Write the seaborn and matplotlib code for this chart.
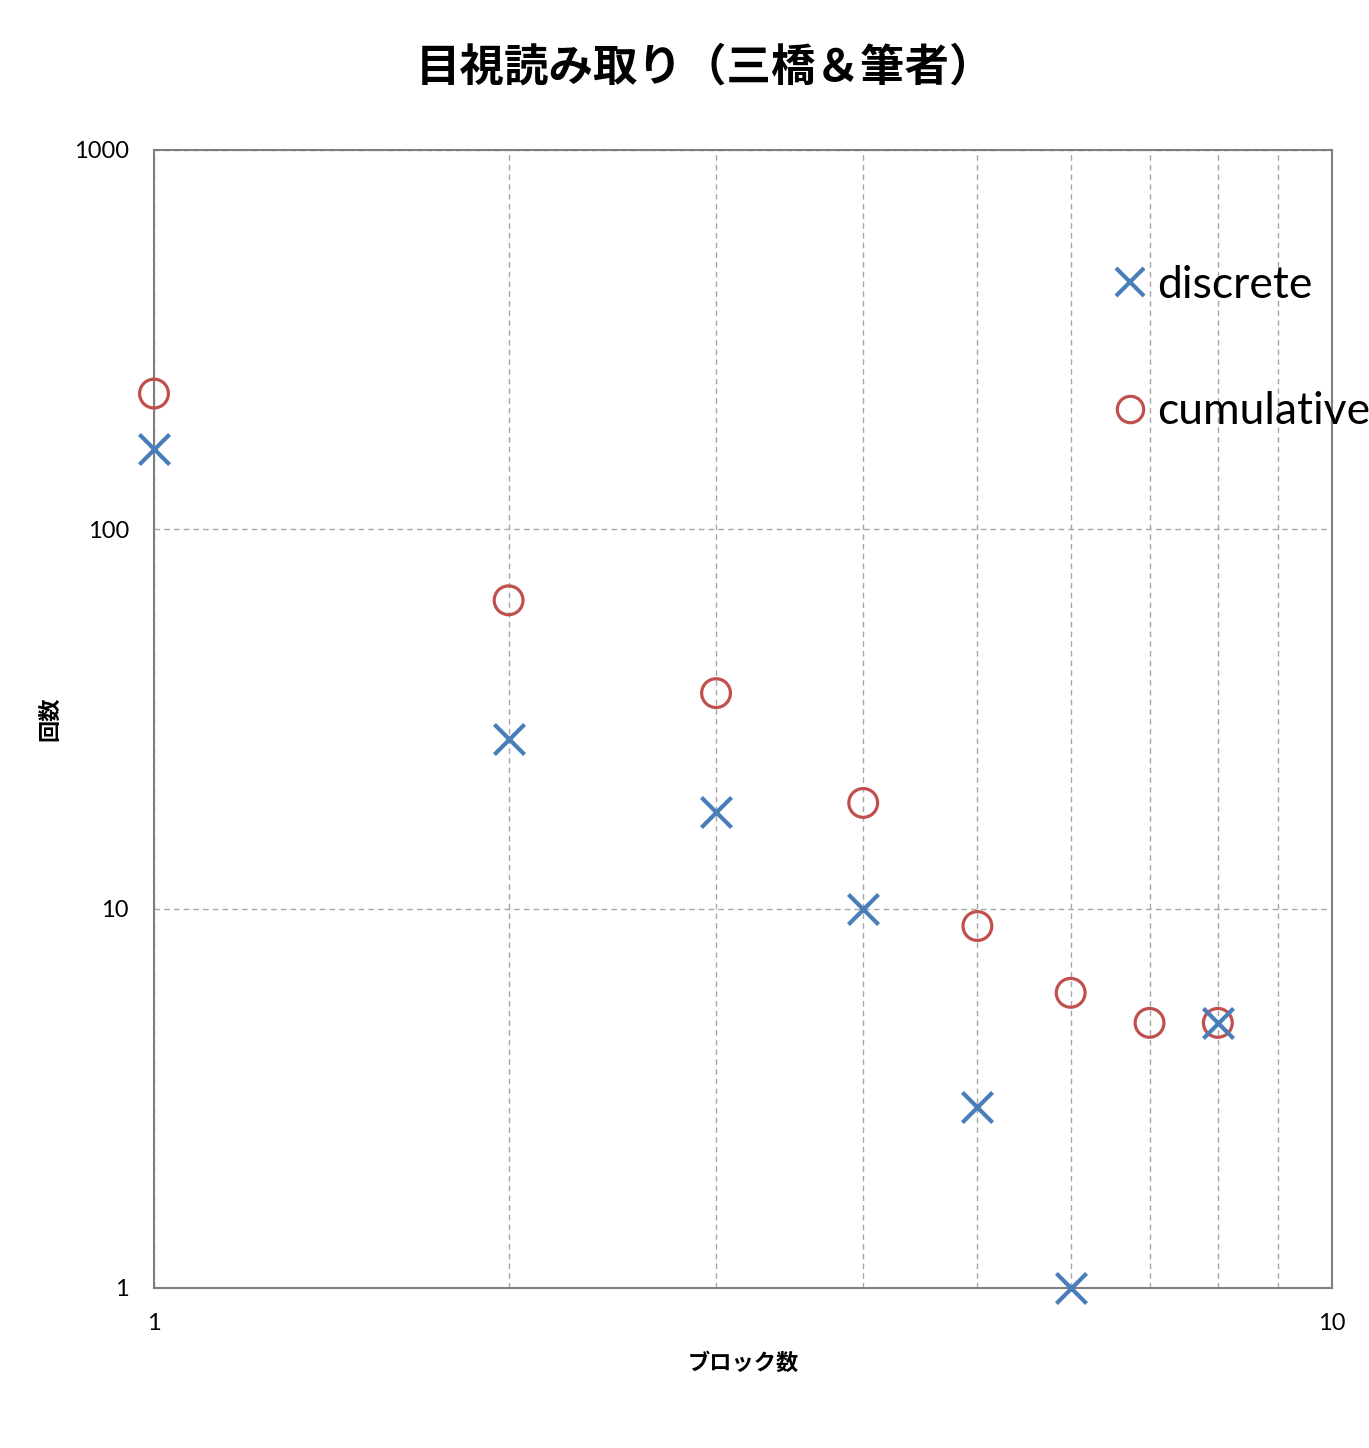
import numpy as np
import pandas as pd
import matplotlib
matplotlib.use("Agg")
import matplotlib.pyplot as plt
from matplotlib.lines import Line2D
from matplotlib.ticker import LogLocator, FixedLocator, NullFormatter, FixedFormatter
import seaborn as sns

# Block counts and occurrence counts
blocks_discrete = [1, 2, 3, 4, 5, 6, 8]
counts_discrete = [163, 28, 18, 10, 3, 1, 5]
blocks_cumulative = [1, 2, 3, 4, 5, 6, 7, 8]
counts_cumulative = [228, 65, 37, 19, 9, 6, 5, 5]

x_ticks = [1, 10]
y_ticks = [1, 10, 100, 1000]

title_text = "目視読み取り（三橋＆筆者）"
x_label = "ブロック数"
y_label = "回数"
legend_labels = ["discrete", "cumulative"]

blue = "#4A7EBB"
red = "#C0504D"

sns.set_theme(style="white")
cjk = ["Noto Sans CJK JP", "DejaVu Sans"]
plt.rcParams["font.family"] = ["Lato", "DejaVu Sans"]
plt.rcParams["text.color"] = "black"
plt.rcParams["axes.labelcolor"] = "black"

df_d = pd.DataFrame({"x": blocks_discrete, "y": counts_discrete})
df_c = pd.DataFrame({"x": blocks_cumulative, "y": counts_cumulative})

fig = plt.figure(figsize=(13.69, 14.48), dpi=100)
ax = fig.add_axes([154 / 1369, 1 - 1288 / 1448, 1178 / 1369, 1138 / 1448])
ax.set_xscale("log")
ax.set_yscale("log")
ax.set_xlim(1, 10)
ax.set_ylim(1, 1000)

sns.scatterplot(data=df_c, x="x", y="y", ax=ax, marker="o", s=430,
                facecolors="none", edgecolors=red, linewidths=2.3,
                clip_on=False, zorder=3)
sns.scatterplot(data=df_d, x="x", y="y", ax=ax, marker="x", s=470,
                color=blue, linewidths=3.0, clip_on=False, zorder=4)

# grid: all decades on x (with minors), major decades on y
ax.xaxis.set_major_locator(FixedLocator(x_ticks))
ax.xaxis.set_major_formatter(FixedFormatter([str(v) for v in x_ticks]))
ax.xaxis.set_minor_locator(LogLocator(base=10, subs=np.arange(2, 10)))
ax.xaxis.set_minor_formatter(NullFormatter())
ax.yaxis.set_major_locator(FixedLocator(y_ticks))
ax.yaxis.set_major_formatter(FixedFormatter([str(v) for v in y_ticks]))
ax.yaxis.set_minor_locator(FixedLocator([]))

grid_kw = dict(color="#A6A6A6", linewidth=1.0, linestyle=(0, (4, 3)))
ax.grid(True, which="major", axis="both", **grid_kw)
ax.grid(True, which="minor", axis="x", **grid_kw)
ax.set_axisbelow(True)

ax.tick_params(axis="both", which="both", length=0, labelsize=17,
               colors="black", pad=18)
for sp in ax.spines.values():
    sp.set_color("#7F7F7F")
    sp.set_linewidth(1.5)

ax.set_xlabel(x_label, fontsize=16, fontweight="bold", family=cjk)
ax.set_ylabel(y_label, fontsize=16, fontweight="bold", family=cjk)
ax.xaxis.set_label_coords(0.5, (1288 - 1363) / 1138)
ax.xaxis.label.set_va("center")
ax.yaxis.set_label_coords((50 - 154) / 1178, 0.5)
ax.yaxis.label.set_va("center")

fig.text(705 / 1369, 1 - 68 / 1448, title_text, fontsize=32, fontweight="bold",
         family=cjk, ha="center", va="center", color="black")

handles = [
    Line2D([], [], linestyle="none", marker="x", markersize=20,
           markeredgewidth=3.0, color=blue),
    Line2D([], [], linestyle="none", marker="o", markersize=19,
           markerfacecolor="none", markeredgewidth=2.3, markeredgecolor=red),
]
ax.legend(handles, legend_labels, loc="upper left",
          bbox_to_anchor=(1108 / 1369, 1 - 265 / 1448),
          bbox_transform=fig.transFigure, frameon=False, fontsize=32,
          handlelength=1.0, handletextpad=0.1, borderpad=0, borderaxespad=0,
          labelspacing=1.92)

fig.savefig("out.png", dpi=100)
